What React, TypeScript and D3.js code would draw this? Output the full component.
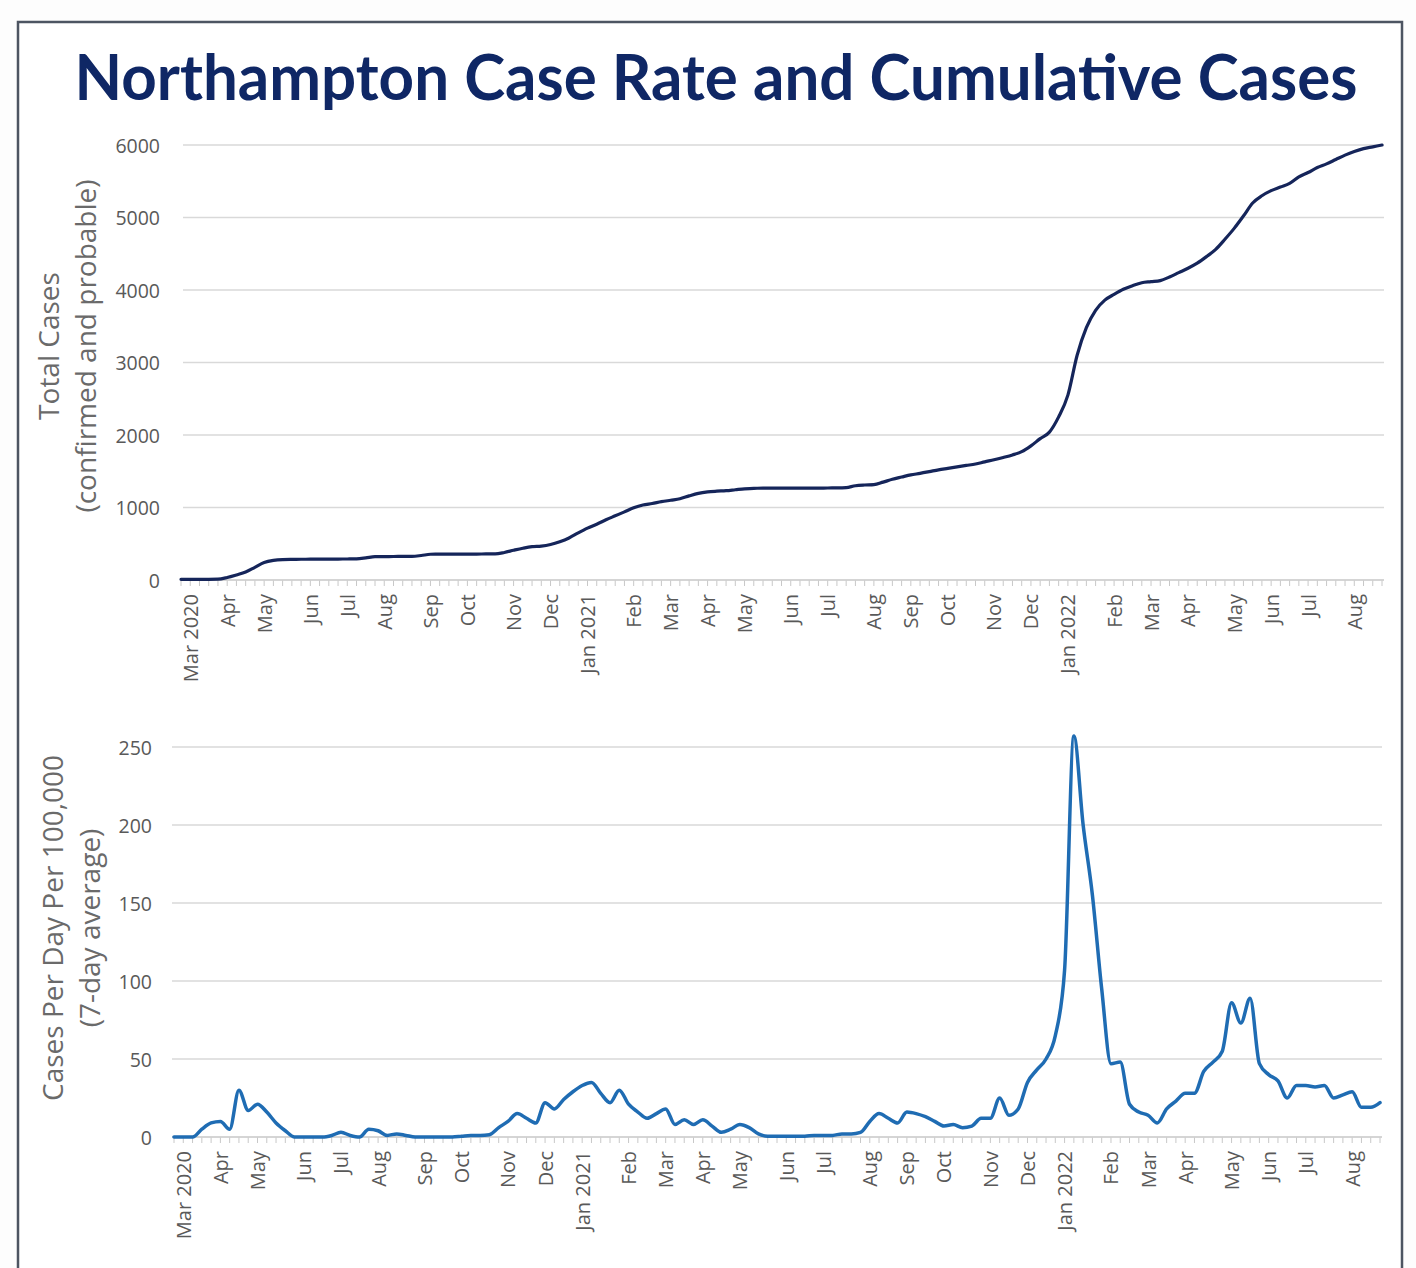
import React from "react";
import * as d3 from "d3";

// weekly data points (Saturdays), Feb 29 2020 .. Aug 27 2022
const firstWeek = new Date(Date.UTC(2020, 1, 29));
const lastWeek = new Date(Date.UTC(2022, 7, 27));

// cumulative total cases (confirmed and probable)
const totalCases = [
  10, 10, 10, 10, 12, 35, 70, 110, 175, 240,
  270, 282, 285, 286, 287, 288, 288, 289, 290, 292,
  305, 322, 323, 324, 325, 326, 338, 355, 356, 357,
  357, 358, 358, 359, 360, 380, 410, 438, 460, 468,
  490, 528, 580, 650, 715, 770, 830, 885, 940, 995,
  1034, 1055, 1080, 1100, 1120, 1160, 1195, 1215, 1225, 1232,
  1245, 1258, 1265, 1266, 1266, 1267, 1267, 1268, 1268, 1268,
  1269, 1270, 1275, 1300, 1310, 1315, 1350, 1389, 1420, 1450,
  1471, 1495, 1520, 1540, 1560, 1580, 1600, 1630, 1658, 1690,
  1725, 1770, 1850, 1950, 2040, 2250, 2550, 3100, 3480, 3720,
  3860, 3940, 4010, 4060, 4100, 4115, 4130, 4180, 4240, 4300,
  4370, 4460, 4560, 4700, 4850, 5020, 5200, 5300, 5370, 5420,
  5470, 5560, 5620, 5690, 5740, 5800, 5860, 5910, 5950, 5975,
  6000,
];

// cases per day per 100,000 (7-day average)
const caseRate = [
  0, 0, 0, 5, 9, 10, 5, 30, 17, 21,
  16, 9, 4, 0, 0, 0, 0, 1, 3, 1,
  0, 5, 4, 1, 2, 1, 0, 0, 0, 0,
  0, 0.5, 1, 1, 1.5, 6, 10, 15, 12, 9,
  22, 18, 24, 29, 33, 35, 28, 22, 30, 21,
  16, 12, 15, 18, 8, 11, 8, 11, 7, 3,
  5, 8, 6, 2, 0.5, 0.5, 0.5, 0.5, 0.5, 1,
  1, 1, 2, 2, 3, 10, 15, 12, 9, 16,
  15, 13, 10, 7, 8, 6, 7, 12, 12, 25,
  14, 18, 35, 43, 50, 65, 107, 257, 200, 155,
  95, 47, 48, 21, 16, 14, 9, 18, 23, 28,
  28, 42, 48, 55, 86, 73, 89, 47, 40, 36,
  25, 33, 33, 32, 33, 25, 27, 29, 19, 19,
  22,
];

const totalTicks = [0, 1000, 2000, 3000, 4000, 5000, 6000];
const rateTicks = [0, 50, 100, 150, 200, 250];

const weeks = d3.utcSaturday.range(firstWeek, d3.utcDay.offset(lastWeek, 1));

// label the first week of every month, with the year on January and the first label
const monthTicks = weeks.filter(
  (d, i) => i > 0 && d.getUTCMonth() !== weeks[i - 1].getUTCMonth()
);
const monthLabel = (d: Date, i: number) =>
  i === 0 || d.getUTCMonth() === 0 ? d3.utcFormat("%b %Y")(d) : d3.utcFormat("%b")(d);

const font = "'Open Sans', 'DejaVu Sans', sans-serif";
const grey = "#595959";

interface PanelProps {
  values: number[];
  ticks: number[];
  xRange: [number, number];
  yRange: [number, number];
  gridX: [number, number];
  tickLabelX: number;
  titleX: [number, number];
  titleY: number;
  titleLines: [string, string];
  color: string;
  width: number;
}

const Panel: React.FC<PanelProps> = props => {
  const x = d3.scaleUtc().domain([firstWeek, lastWeek]).range(props.xRange);
  const y = d3
    .scaleLinear()
    .domain([0, d3.max(props.ticks) as number])
    .range(props.yRange);

  const line = d3
    .line<number>()
    .x((_, i) => x(weeks[i]))
    .y(d => y(d))
    .curve(d3.curveMonotoneX);

  const base = props.yRange[0];

  return (
    <g>
      {/* gridlines */}
      {props.ticks.map(t => (
        <line
          key={t}
          x1={props.gridX[0]}
          x2={props.gridX[1]}
          y1={y(t)}
          y2={y(t)}
          stroke="#d9d9d9"
          strokeWidth={1.5}
        />
      ))}
      {props.ticks.map(t => (
        <text
          key={"l" + t}
          x={props.tickLabelX}
          y={y(t)}
          textAnchor="end"
          dominantBaseline="central"
          fontSize={19.5}
          fill={grey}
        >
          {t}
        </text>
      ))}

      {/* weekly minor ticks */}
      {weeks.map((d, i) => (
        <line
          key={"t" + i}
          x1={x(d)}
          x2={x(d)}
          y1={base}
          y2={base + 6}
          stroke="#c8c8c8"
          strokeWidth={1}
        />
      ))}
      <line
        x1={props.gridX[0]}
        x2={props.gridX[1]}
        y1={base}
        y2={base}
        stroke="#d0d0d0"
        strokeWidth={1.5}
      />

      {monthTicks.map((d, i) => (
        <text
          key={"m" + i}
          transform={`translate(${x(d)},${base + 14}) rotate(-90)`}
          textAnchor="end"
          dominantBaseline="central"
          fontSize={20}
          fill={grey}
        >
          {monthLabel(d, i)}
        </text>
      ))}

      <path
        d={line(props.values) || ""}
        fill="none"
        stroke={props.color}
        strokeWidth={props.width}
        strokeLinejoin="round"
        strokeLinecap="round"
      />

      {/* axis title */}
      {props.titleLines.map((s, i) => (
        <text
          key={"y" + i}
          transform={`translate(${props.titleX[i]},${props.titleY}) rotate(-90)`}
          textAnchor="middle"
          dominantBaseline="central"
          fontSize={28}
          fill="#6a6a6a"
        >
          {s}
        </text>
      ))}
    </g>
  );
};

const App: React.FC = () => {
  return (
    <svg
      width={1416}
      height={1268}
      style={{ position: "absolute", left: 0, top: 0, background: "#fdfdfd" }}
      fontFamily={font}
    >
      <rect x={18} y={22} width={1384} height={1270} fill="#ffffff" stroke="#4d5562" strokeWidth={2.5} />
      <text
        x={716}
        y={100}
        textAnchor="middle"
        fontSize={64}
        fontWeight={700}
        fontFamily="Lato, 'Open Sans', sans-serif"
        fill="#0f2765"
        textLength={1283}
        lengthAdjust="spacingAndGlyphs"
      >
        Northampton Case Rate and Cumulative Cases
      </text>

      <Panel
        values={totalCases}
        ticks={totalTicks}
        xRange={[181, 1382]}
        yRange={[580, 145]}
        gridX={[183, 1384]}
        tickLabelX={160}
        titleX={[48, 85]}
        titleY={346}
        titleLines={["Total Cases", "(confirmed and probable)"]}
        color="#15255a"
        width={3.2}
      />
      <Panel
        values={caseRate}
        ticks={rateTicks}
        xRange={[174, 1380]}
        yRange={[1137, 747]}
        gridX={[172, 1382]}
        tickLabelX={152}
        titleX={[52, 89]}
        titleY={928}
        titleLines={["Cases Per Day Per 100,000", "(7-day average)"]}
        color="#1f6cb3"
        width={3.5}
      />
    </svg>
  );
};

export default App;
